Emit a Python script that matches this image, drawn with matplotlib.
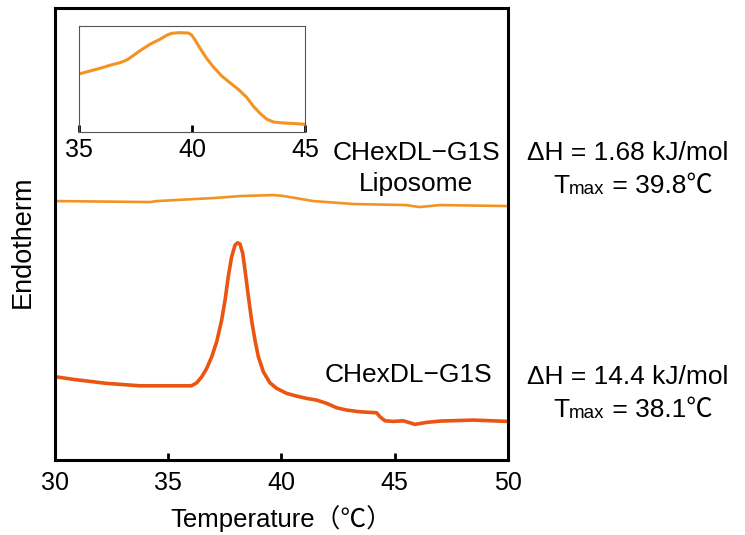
import numpy as np
import matplotlib
matplotlib.use("Agg")
import matplotlib.pyplot as plt

plt.rcParams['font.family'] = ['Liberation Sans', 'Noto Sans CJK JP', 'DejaVu Sans']

# DSC traces (arbitrary heat-flow units, larger = more endothermic)
temp_g1s = [30.03, 30.81, 32.28, 33.75, 36.03, 36.26, 36.48, 36.70, 36.92, 37.14, 37.36,
            37.51, 37.65, 37.80, 37.95, 38.07, 38.17, 38.29, 38.39, 38.54, 38.68, 38.83,
            38.98, 39.20, 39.49, 39.79, 40.23, 40.67, 41.11, 41.55, 42.0, 42.44, 42.88,
            43.47, 44.2, 44.35, 44.57, 44.94, 45.38, 45.67, 45.89, 46.41, 47.0, 48.47, 50.0]
heat_g1s = [83.3, 80.7, 76.7, 74.3, 74.3, 77.3, 83.3, 91.7, 103.3, 118.3, 140,
            160, 183.3, 203.3, 215, 217.3, 216, 206.7, 190, 163.3, 140, 120,
            103.3, 88.3, 77.3, 71.7, 66.7, 64, 61.7, 60, 56.7, 52.3, 50,
            48.3, 47.3, 43.3, 39.3, 38.7, 39.3, 37.3, 35.7, 37.7, 39, 40, 38.7]

temp_lipo = [30.0, 34.2, 34.5, 37.0, 38.2, 39.64, 40.1, 41.4, 43.2, 45.5, 46.1, 47.0, 50.0]
heat_lipo = [259, 258, 259, 262, 264, 265, 264, 259, 256, 255, 253, 255, 254]

temp_inset = [35.0, 35.49, 35.93, 36.37, 36.81, 37.11, 37.33, 37.70, 38.14, 38.58, 38.88,
              39.10, 39.46, 39.83, 39.98, 40.13, 40.35, 40.64, 40.93, 41.31, 41.67, 42.04,
              42.41, 42.70, 43.0, 43.29, 43.59, 44.03, 44.62, 45.0]
heat_inset = [58.3, 61.3, 64, 67, 69.6, 72.3, 75.6, 81.6, 88, 93, 97,
              99, 99.6, 99.3, 97.3, 92.3, 84, 74, 65.6, 56.3, 49.6, 43,
              35, 26.3, 19, 13.3, 10.3, 9.3, 8.6, 8]

c_g1s = '#EB5512'
c_lipo = '#F39323'

fig = plt.figure(figsize=(7.45, 5.35), dpi=100)
ax = fig.add_axes([0.0738, 0.140, 0.608, 0.845])
ax.plot(temp_g1s, heat_g1s, color=c_g1s, lw=2.6, solid_joinstyle='round')
ax.plot(temp_lipo, heat_lipo, color=c_lipo, lw=1.9)
ax.set_xlim(30, 50)
ax.set_ylim(0, 452)
ax.set_xticks([30, 35, 40, 45, 50])
ax.set_yticks([])
ax.tick_params(axis='x', direction='in', length=5, width=2, labelsize=18, pad=8)
for s in ax.spines.values():
    s.set_linewidth(2.2)
ax.set_xlabel('Temperature（℃）', fontsize=18.5, labelpad=7)
ax.set_ylabel('Endotherm', fontsize=19.5)
ax.yaxis.set_label_coords(-0.042, 0.482)

ins = fig.add_axes([0.106, 0.7527, 0.3037, 0.1993])
ins.plot(temp_inset, heat_inset, color=c_lipo, lw=2.2, solid_joinstyle='round')
ins.set_xlim(35, 45)
ins.set_ylim(0, 106.6)
ins.set_xticks([35, 40, 45])
ins.set_yticks([])
ins.tick_params(axis='x', direction='in', length=5, width=2, labelsize=18, pad=4)
for s in ins.spines.values():
    s.set_linewidth(0.8)
    s.set_color('#555555')


def px(x, y):
    return x / 745, 1 - y / 535


fs = 19
fig.text(*px(416, 153), 'CHexDL−G1S', fontsize=fs, ha='center', va='center')
fig.text(*px(416, 184), 'Liposome', fontsize=fs, ha='center', va='center')
fig.text(*px(408, 375), 'CHexDL−G1S', fontsize=fs, ha='center', va='center')


def tmax(x, y, val):
    t = fig.text(*px(x, y), 'T', fontsize=fs, ha='left', va='baseline')
    m = ax.annotate('max', xy=(1, 0), xycoords=t, fontsize=13.5, ha='left', va='bottom')
    ax.annotate(' = ' + val, xy=(1, 0), xycoords=m, fontsize=fs, ha='left', va='bottom')


fig.text(*px(527, 153), 'ΔH = 1.68 kJ/mol', fontsize=fs, ha='left', va='center')
tmax(553, 193, '39.8℃')
fig.text(*px(527, 377), 'ΔH = 14.4 kJ/mol', fontsize=fs, ha='left', va='center')
tmax(553, 417, '38.1℃')

fig.savefig('out.png', dpi=100)
